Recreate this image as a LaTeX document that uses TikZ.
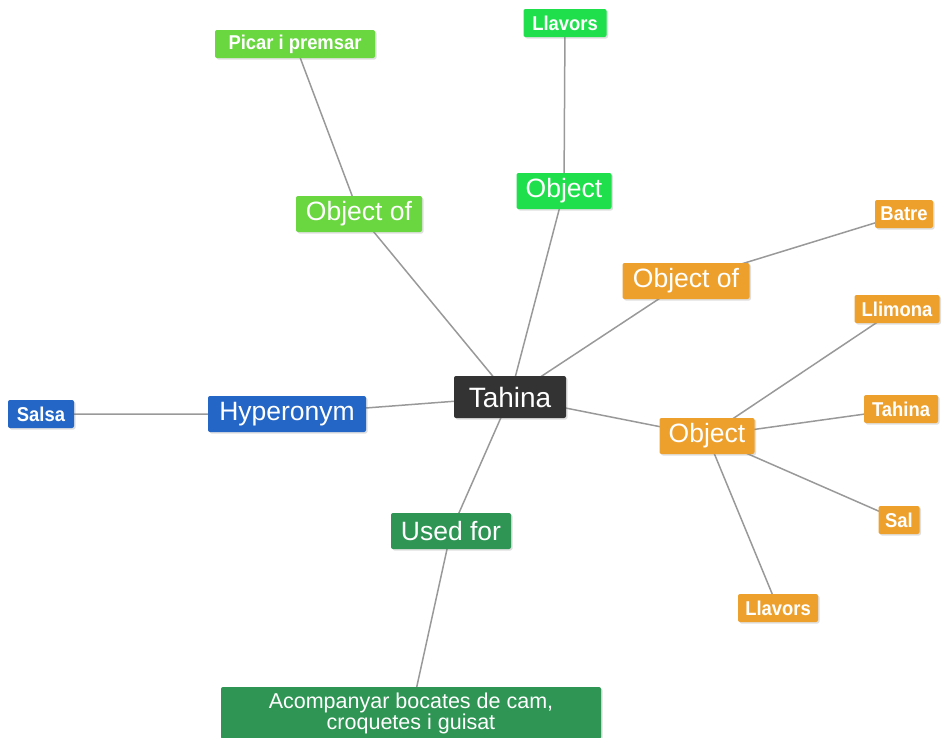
\documentclass[tikz,border=0pt]{standalone}
\usepackage{fontspec}
\setmainfont{Liberation Sans}
\newfontfamily\leaffont[FakeStretch=0.92]{Liberation Sans}
\usetikzlibrary{shadows,backgrounds}
\definecolor{lgreen}{HTML}{6AD640}
\definecolor{bgreen}{HTML}{1FE04C}
\definecolor{orng}{HTML}{EEA02C}
\definecolor{blu}{HTML}{2466C6}
\definecolor{dgreen}{HTML}{2E9554}
\definecolor{dark}{HTML}{333333}
\definecolor{edgec}{HTML}{999999}
\tikzset{
  base/.style={rounded corners=2pt, text=white, inner sep=0pt, align=center,
    drop shadow={opacity=0.25, shadow xshift=1.5pt, shadow yshift=-1.5pt}},
  center/.style={base, fill=dark, minimum width=112pt, minimum height=42pt,
    font=\fontsize{28}{30}\selectfont},
  rel/.style={base, minimum height=36pt, font=\fontsize{26.5}{28}\selectfont},
  leaf/.style={base, minimum height=28pt, font=\leaffont\bfseries\fontsize{20}{22}\selectfont},
  link/.style={draw=edgec, line width=1.5pt}
}
\begin{document}
\begin{tikzpicture}[x=1pt,y=-1pt]
\useasboundingbox (0,0) rectangle (942,737);
% central
\node[center] (tah) at (510,397) {Tahina};
% blue
\node[rel, fill=blu, minimum width=158pt] (hyp) at (287,414) {Hyperonym};
\node[leaf, fill=blu, minimum width=66pt] (salsa) at (41,414) {Salsa};
% dark green
\node[rel, fill=dgreen, minimum width=120pt] (used) at (451,531) {Used for};
\node[base, fill=dgreen, minimum width=380pt, minimum height=52pt,
  font=\fontsize{21.5}{19}\selectfont] (acomp) at (411,713)
  {Acompanyar bocates de cam,\\croquetes i guisat};
% light green
\node[rel, fill=lgreen, minimum width=126pt] (oofg) at (359,214) {Object of};
\node[leaf, fill=lgreen, minimum width=160pt] (picar) at (295,44) {Picar i premsar};
% bright green
\node[rel, fill=bgreen, minimum width=95pt] (objg) at (564,191) {Object};
\node[leaf, fill=bgreen, minimum width=83pt] (llavg) at (565,23) {Llavors};
% orange
\node[rel, fill=orng, minimum width=127pt] (oofo) at (686,281) {Object of};
\node[leaf, fill=orng, minimum width=58pt] (batre) at (904,214) {Batre};
\node[rel, fill=orng, minimum width=95pt] (objo) at (707,436) {Object};
\node[leaf, fill=orng, minimum width=85pt] (llim) at (897,309) {Llimona};
\node[leaf, fill=orng, minimum width=74pt] (tahs) at (901,409) {Tahina};
\node[leaf, fill=orng, minimum width=41pt] (sal) at (899,520) {Sal};
\node[leaf, fill=orng, minimum width=80pt] (llavo) at (778,608) {Llavors};
\begin{pgfonlayer}{background}
\draw[link] (tah.center) -- (hyp.center) -- (salsa.center);
\draw[link] (tah.center) -- (used.center) -- (acomp.center);
\draw[link] (tah.center) -- (oofg.center) -- (picar.center);
\draw[link] (tah.center) -- (objg.center) -- (llavg.center);
\draw[link] (tah.center) -- (oofo.center) -- (batre.center);
\draw[link] (tah.center) -- (objo.center);
\draw[link] (objo.center) -- (llim.center);
\draw[link] (objo.center) -- (tahs.center);
\draw[link] (objo.center) -- (sal.center);
\draw[link] (objo.center) -- (llavo.center);
\end{pgfonlayer}
\end{tikzpicture}
\end{document}
